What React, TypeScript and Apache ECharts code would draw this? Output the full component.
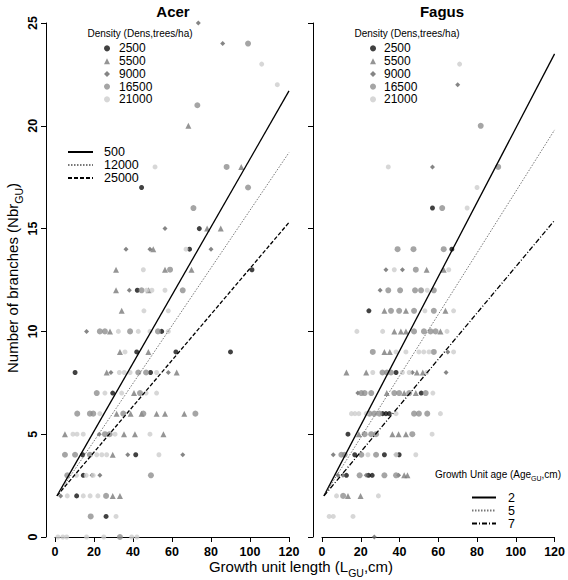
import React, { useEffect, useRef } from "react";
import * as echarts from "echarts";

// ---------- data ----------
const densityNames = ["2500", "5500", "9000", "16500", "21000"];
const xTicks = [0, 20, 40, 60, 80, 100, 120];

// Acer observations [length cm, number of branches]
const acer2500 = [[44.4,17],[42.2,12],[54.7,10],[41.9,9],[62,9],[10.3,8],[49,8],[29.6,7],[14.2,4],[41.4,4],[14.5,3],[11.1,2],[26.2,1],[101,13],[74,15],[69,14],[90,9]];
const acer5500 = [[68.4,20],[95.5,18],[50.4,14],[31.3,13],[56.4,13],[31.3,12],[48,12],[34.2,11],[28.2,10],[33.3,9],[47.9,9],[26.5,8],[62.4,8],[40.5,7],[31.6,6],[38.8,6],[44.4,6],[52.1,6],[56.4,6],[66.3,6],[5.1,5],[35.4,5],[41,5],[55.6,5],[29.6,4],[29.6,2],[33.3,2],[78,15],[85,15],[70,13]];
const acer9000 = [[73.5,25],[86,24],[56.4,15],[36.4,14],[48.7,14],[38.1,12],[16.2,10],[28.7,8],[58.1,8],[22.7,5],[37.3,4],[65.5,4],[23,3],[2.9,2],[19,3],[80,14]];
const acer16500 = [[99,24],[73,21],[88,18],[99,17],[59,13],[44.4,12],[65.5,12],[23,10],[25.6,10],[38.5,10],[52.8,10],[42.7,8],[46.7,8],[21.4,7],[43.6,7],[11.4,6],[17.9,6],[19.6,6],[35,6],[45.3,6],[25.6,5],[28,5],[5.1,4],[10.3,4],[17.9,4],[6.3,3],[49.2,3],[26.2,2],[18.3,1],[33.3,0],[71,16],[72,6]];
const acer21000 = [[106,23],[114,22],[51.3,18],[67.2,14],[45.3,13],[47,12],[49.7,12],[56.4,12],[45.6,11],[58.1,11],[32.5,10],[42.7,10],[48.7,10],[58.1,10],[35.9,9],[33,8],[35.5,8],[38.5,8],[52.1,8],[25.6,7],[34.2,7],[46.7,7],[52.1,7],[23,6],[9.2,5],[11.3,5],[14.5,5],[30.8,5],[48.7,5],[21.4,4],[24,4],[26.5,4],[53.3,4],[11,3],[16,3],[19.6,3],[6.3,2],[14.5,2],[18,2],[22,2],[31.3,1],[1.5,0],[4,0],[6,0],[16.2,0],[25,0],[39.3,0],[42,0]];

// Fagus observations
const fagus2500 = [[57,16],[67,14],[24.2,11],[38.2,8],[51.2,7],[31.3,6],[33,6],[34.7,6],[13.4,5],[16.9,4],[24,3],[25.9,3],[32.2,4],[39.8,4],[12.6,3]];
const fagus5500 = [[37.3,10],[61.1,10],[22.8,8],[33.4,7],[19,5],[13.4,2],[54,13],[62.8,13],[32.2,11],[43.3,11],[63.7,11],[40.7,10],[43.3,10],[32.2,9],[35,9],[12.6,8],[49,8],[52,8],[42.4,7],[48.4,7],[36.3,5],[39.5,5],[43.3,5],[42.4,3],[44.1,3],[19.9,2]];
const fagus9000 = [[57,18],[70,22],[33,13],[30,12],[46.6,8],[64,8],[18.5,7],[64.9,9],[5.8,4],[38.2,4],[8.2,3],[10.8,3],[22.8,3],[39.5,3],[27,0],[41.5,13]];
const fagus16500 = [[81.9,20],[90.9,18],[62,16],[39,14],[47.2,14],[62.8,14],[48.4,13],[34.2,12],[40.3,12],[48,12],[51.1,12],[57.7,12],[35.6,11],[39.8,11],[47.5,11],[57.7,11],[47.5,10],[52.6,10],[56,10],[58.6,10],[26.2,9],[57.7,9],[31.2,8],[33.5,8],[35.6,8],[20.3,7],[22,7],[25.4,7],[37.3,7],[39.8,7],[45,7],[53.5,7],[24.5,6],[27,6],[29.6,6],[47.5,6],[50,6],[54.3,6],[22,5],[25.4,5],[27.9,5],[46.6,5],[10,4],[11.7,4],[20.3,4],[27.9,4],[19.4,3],[32.2,3],[38.2,3],[10.9,2]];
const fagus21000 = [[71,23],[34.2,18],[80,17],[74.9,16],[37.3,13],[65.4,13],[54.3,12],[53.1,11],[67.9,11],[18,10],[31.3,10],[64.5,10],[38.2,9],[43.3,9],[50,9],[52.5,9],[55.2,9],[67.9,9],[26.2,8],[41.5,8],[45,8],[54,8],[57.2,7],[15.2,6],[17,6],[19,6],[22.8,6],[38.2,6],[61.1,6],[56.8,5],[23.7,4],[48.4,4],[38.2,4],[7.5,2],[29.1,2],[3.7,1],[5.8,1],[16,1]];

// Fitted lines: common start point and value reached at 120 cm
const acerLineNames = ["500", "12000", "25000"];
const acerLineEnds = [21.7, 18.7, 15.3];
const fagusLineNames = ["2", "5", "7"];
const fagusLineEnds = [23.5, 19.8, 15.4];
const lineStart = [1, 2];
const lineEndX = 120;

// ---------- styles ----------
const FONT = "Liberation Sans, Arial, Helvetica, sans-serif";
const densSymbols = ["circle", "triangle", "diamond", "circle", "circle"];
const densColors = ["#111111", "#7a7a7a", "#666666", "#8e8e8e", "#cdcdcd"];
const densSizes = [5, 6, 5, 6, 5];
const lineTypes: any[] = ["solid", [1.5, 1.5], [4, 2]];
const lineTypesF: any[] = ["solid", [1.5, 1.5], [5, 2, 1, 2]];
const lineColors = ["#000", "#777", "#000"];

export default function App() {
  const ref = useRef<HTMLDivElement>(null);
  useEffect(() => {
    if (!ref.current) return;
    const chart = echarts.init(ref.current, undefined, { renderer: "svg" });
    const acerSets = [acer2500, acer5500, acer9000, acer16500, acer21000];
    const fagusSets = [fagus2500, fagus5500, fagus9000, fagus16500, fagus21000];

    const scatter = (sets: number[][][], idx: number) =>
      sets.map((d, i) => ({
        type: "scatter",
        name: densityNames[i],
        xAxisIndex: idx,
        yAxisIndex: idx,
        data: d,
        symbol: densSymbols[i],
        symbolSize: densSizes[i],
        itemStyle: { color: densColors[i] },
        clip: false,
        z: 2,
      }));

    const lines = (names: string[], ends: number[], types: any[], idx: number) =>
      names.map((n, i) => ({
        type: "line",
        name: n,
        xAxisIndex: idx,
        yAxisIndex: idx,
        data: [lineStart, [lineEndX, ends[i]]],
        symbol: "none",
        lineStyle: { color: lineColors[i], width: i === 1 ? 1 : 1.3, type: types[i] },
        z: 3,
      }));

    const xAxis = (idx: number) => ({
      type: "value",
      gridIndex: idx,
      min: 0,
      max: 120,
      interval: 20,
      splitLine: { show: false },
      axisLine: { show: true, onZero: false, lineStyle: { color: "#000", width: 1 } },
      axisTick: { show: true, length: 5, lineStyle: { color: "#000" } },
      axisLabel: {
        color: "#000",
        fontFamily: FONT,
        fontWeight: "bold",
        fontSize: 12.5,
        margin: 8,
        formatter: (v: number) => (xTicks.includes(v) ? String(v) : ""),
      },
    });
    const yAxis = (idx: number, labels: boolean) => ({
      type: "value",
      gridIndex: idx,
      min: 0,
      max: 25,
      interval: 5,
      offset: 9,
      splitLine: { show: false },
      axisLine: { show: true, onZero: false, lineStyle: { color: "#000", width: 1 } },
      axisTick: { show: true, length: 5, lineStyle: { color: "#000" } },
      axisLabel: {
        show: labels,
        color: "#000",
        fontFamily: FONT,
        fontWeight: "bold",
        fontSize: 12.5,
        rotate: 90,
        margin: 7,
      },
    });

    const densLegend = (left: number, top: number, gap: number) => ({
      data: densityNames,
      orient: "vertical",
      left,
      top,
      padding: 0,
      itemWidth: 6,
      itemHeight: 6,
      itemGap: 0,
      selectedMode: false,
      textStyle: { fontFamily: FONT, fontSize: 12, color: "#000", lineHeight: 12.75, padding: [0, 0, 0, gap] },
    });
    const lineLegend = (names: string[], left: number, top: number, width: number, lh: number, gap: number) => ({
      data: names,
      orient: "vertical",
      left,
      top,
      padding: 0,
      itemWidth: width,
      itemHeight: 8,
      itemGap: 0,
      selectedMode: false,
      itemStyle: { color: "rgba(0,0,0,0)", borderColor: "rgba(0,0,0,0)", borderWidth: 0 },
      textStyle: { fontFamily: FONT, fontSize: 12.5, color: "#000", lineHeight: lh, padding: [0, 0, 0, gap] },
    });

    const sub = { fontSize: 10.5, fontFamily: FONT, verticalAlign: "bottom", padding: [0, 0, -5, 0] };

    chart.setOption({
      animation: false,
      backgroundColor: "#fff",
      grid: [
        { left: 55, top: 23, width: 234, height: 514, containLabel: false },
        { left: 322, top: 23, width: 235, height: 514, containLabel: false },
      ],
      xAxis: [xAxis(0), xAxis(1)],
      yAxis: [yAxis(0, true), yAxis(1, false)],
      legend: [
        densLegend(104, 42, 4),
        densLegend(370, 42, 3),
        lineLegend(acerLineNames, 67, 145.5, 25, 13, 6),
        lineLegend(fagusLineNames, 471, 491, 24, 12.5, 7),
      ],
      graphic: [
        { type: "text", x: 173, y: 11, style: { text: "Acer", font: `bold 15px ${FONT}`, fill: "#000", textAlign: "center", textVerticalAlign: "middle" } },
        { type: "text", x: 442, y: 11, style: { text: "Fagus", font: `bold 15px ${FONT}`, fill: "#000", textAlign: "center", textVerticalAlign: "middle" } },
        { type: "text", x: 140, y: 33, style: { text: "Density (Dens,trees/ha)", font: `10px ${FONT}`, fill: "#000", textAlign: "center", textVerticalAlign: "middle" } },
        { type: "text", x: 407, y: 33, style: { text: "Density (Dens,trees/ha)", font: `10px ${FONT}`, fill: "#000", textAlign: "center", textVerticalAlign: "middle" } },
        {
          type: "text", x: 498, y: 474,
          style: {
            text: "Growth Unit age (Age{s|GU},cm)",
            fontSize: 10, fontFamily: FONT, fill: "#000", textAlign: "center", textVerticalAlign: "middle",
            rich: { s: { fontSize: 7, fontFamily: FONT, verticalAlign: "bottom", padding: [0, 0, -3, 0] } },
          },
        },
        {
          type: "text", x: 301, y: 566,
          style: {
            text: "Growth unit length (L{s|GU},cm)",
            fontSize: 15, fontFamily: FONT, fill: "#000", textAlign: "center", textVerticalAlign: "middle",
            rich: { s: sub },
          },
        },
        {
          type: "text", x: 12, y: 278, rotation: Math.PI / 2,
          style: {
            text: "Number of branches (Nbr{s|GU})",
            fontSize: 15, fontFamily: FONT, fill: "#000", textAlign: "center", textVerticalAlign: "middle",
            rich: { s: sub },
          },
        },
      ],
      series: [
        ...scatter(acerSets, 0),
        ...scatter(fagusSets, 1),
        ...lines(acerLineNames, acerLineEnds, lineTypes, 0),
        ...lines(fagusLineNames, fagusLineEnds, lineTypesF, 1),
      ],
    });
    return () => chart.dispose();
  }, []);
  return <div ref={ref} style={{ position: "fixed", left: 0, top: 0, width: 568, height: 580 }} />;
}
